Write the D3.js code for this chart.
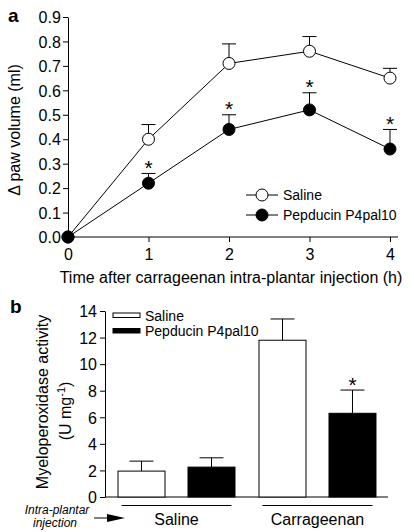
<!DOCTYPE html>
<html>
<head>
<meta charset="utf-8">
<script src="https://cdn.jsdelivr.net/npm/d3@7/dist/d3.min.js"></script>
<style>
  html, body { margin: 0; padding: 0; background: #fff; }
  svg { display: block; font-family: "Liberation Sans", Arial, Helvetica, sans-serif; }
</style>
</head>
<body>
<svg id="chart" width="414" height="532"></svg>
<script>
// ---------- Panel a data ----------
const timeHours = [0, 1, 2, 3, 4];
const salineMean = [0, 0.40, 0.71, 0.76, 0.65];
const salineErr = [0, 0.06, 0.08, 0.06, 0.04];
const pepducinMean = [0, 0.22, 0.44, 0.52, 0.36];
const pepducinErr = [0, 0.04, 0.06, 0.07, 0.08];
const pepducinSig = [false, true, true, true, true];
const yTicksA = [0, 0.1, 0.2, 0.3, 0.4, 0.5, 0.6, 0.7, 0.8, 0.9];
const seriesNamesA = ["Saline", "Pepducin P4pal10"];

// ---------- Panel b data ----------
const groupsB = ["Saline", "Carrageenan"];
const seriesB = ["Saline", "Pepducin P4pal10"];
const mpoSaline = [1.95, 11.8];
const mpoSalineErr = [0.75, 1.6];
const mpoPepducin = [2.25, 6.3];
const mpoPepducinErr = [0.7, 1.75];
const mpoSig = [[false, false], [false, true]];
const yTicksB = [0, 2, 4, 6, 8, 10, 12, 14];

const svg = d3.select("#chart");
const black = "#000";

// ================= Panel a =================
const xA = d3.scaleLinear().domain([0, 4]).range([68, 390]);
const yA = d3.scaleLinear().domain([0, 0.9]).range([237, 17]);

const gA = svg.append("g");
// y axis
const yAxisA = d3.axisLeft(yA).tickValues(yTicksA).tickFormat(d3.format(".1f")).tickSize(5).tickSizeOuter(0);
const gyA = gA.append("g").attr("transform", `translate(${xA(0)},0)`).call(yAxisA);
gyA.selectAll("text").attr("font-size", 16).attr("font-family", null).attr("dx", "0.05em").attr("dy", "0.36em");
gyA.selectAll("line, path").attr("stroke", black);
// x axis
const xAxisA = d3.axisBottom(xA).tickValues(timeHours).tickFormat(d3.format("d")).tickSize(5).tickSizeOuter(0);
const gxA = gA.append("g").attr("transform", `translate(0,${yA(0)})`).call(xAxisA);
gxA.select(".domain").remove();
gxA.append("line").attr("x1", xA(0)).attr("x2", xA(4) + 8).attr("y1", 0).attr("y2", 0).attr("stroke", black);
gxA.selectAll("text").attr("font-size", 16).attr("font-family", null).attr("dy", "0.95em").attr("fill", black);
gxA.selectAll("line").attr("stroke", black);

// axis titles
gA.append("text").attr("transform", `translate(20,${(yA(0) + yA(0.9)) / 2 + 3}) rotate(-90)`)
  .attr("text-anchor", "middle").attr("font-size", 16).text("Δ paw volume (ml)");
gA.append("text").attr("x", 231).attr("y", 283).attr("text-anchor", "middle")
  .attr("font-size", 16).text("Time after carrageenan intra-plantar injection (h)");
gA.append("text").attr("x", 8).attr("y", 22).attr("font-size", 19).attr("font-weight", "bold").text("a");

const line = d3.line().x((d, i) => xA(timeHours[i])).y(d => yA(d));
const seriesA = [
  { mean: salineMean, err: salineErr, fill: "#fff", sig: null },
  { mean: pepducinMean, err: pepducinErr, fill: black, sig: pepducinSig }
];
seriesA.forEach(s => {
  gA.append("path").attr("d", line(s.mean)).attr("fill", "none").attr("stroke", black).attr("stroke-width", 1);
  // error bars (upwards)
  s.mean.forEach((m, i) => {
    if (s.err[i] <= 0) return;
    const x = xA(timeHours[i]);
    gA.append("line").attr("x1", x).attr("x2", x).attr("y1", yA(m)).attr("y2", yA(m + s.err[i])).attr("stroke", black);
    gA.append("line").attr("x1", x - 7).attr("x2", x + 7).attr("y1", yA(m + s.err[i])).attr("y2", yA(m + s.err[i])).attr("stroke", black);
    if (s.sig && s.sig[i]) {
      gA.append("text").attr("x", x).attr("y", yA(m + s.err[i]) + 1.5).attr("text-anchor", "middle")
        .attr("font-size", 21).text("*");
    }
  });
});
seriesA.forEach(s => {
  gA.selectAll(null).data(s.mean).enter().append("circle")
    .attr("cx", (d, i) => xA(timeHours[i])).attr("cy", d => yA(d)).attr("r", 6)
    .attr("fill", s.fill).attr("stroke", black).attr("stroke-width", 1);
});

// legend a
const legA = gA.append("g");
[195, 215].forEach((ly, i) => {
  legA.append("line").attr("x1", 246).attr("x2", 278).attr("y1", ly).attr("y2", ly).attr("stroke", black);
  legA.append("circle").attr("cx", 262).attr("cy", ly).attr("r", 6)
    .attr("fill", seriesA[i].fill).attr("stroke", black);
  legA.append("text").attr("x", 283).attr("y", ly + 5).attr("font-size", 14).text(seriesNamesA[i]);
});

// ================= Panel b =================
const yB = d3.scaleLinear().domain([0, 14]).range([497, 311]);
const x0 = d3.scaleBand().domain(groupsB).range([112, 382]).paddingInner(0.1).paddingOuter(0.0075);
const x1 = d3.scaleBand().domain(seriesB).range([0, x0.bandwidth()]).paddingInner(0.3286).paddingOuter(0.0708);

const gB = svg.append("g");
const yAxisB = d3.axisLeft(yB).tickValues(yTicksB).tickFormat(d3.format("d")).tickSize(5).tickSizeOuter(0);
const gyB = gB.append("g").attr("transform", `translate(105,0)`).call(yAxisB);
gyB.selectAll("text").attr("font-size", 16).attr("font-family", null).attr("dy", "0.36em");
gyB.selectAll("line, path").attr("stroke", black);
gB.append("line").attr("x1", 105).attr("x2", 388).attr("y1", yB(0)).attr("y2", yB(0)).attr("stroke", black);

gB.append("text").attr("x", 10).attr("y", 313).attr("font-size", 19).attr("font-weight", "bold").text("b");
gB.append("text").attr("transform", `translate(48,402) rotate(-90)`).attr("text-anchor", "middle")
  .attr("font-size", 16).text("Myeloperoxidase activity");
const ul = gB.append("text").attr("transform", `translate(71,411) rotate(-90)`).attr("text-anchor", "middle")
  .attr("font-size", 16);
ul.append("tspan").text("(U mg");
ul.append("tspan").attr("font-size", 11).attr("dy", -6).text("-1");
ul.append("tspan").attr("dy", 6).text(")");

const barSeries = [
  { name: seriesB[0], mean: mpoSaline, err: mpoSalineErr, fill: "#fff" },
  { name: seriesB[1], mean: mpoPepducin, err: mpoPepducinErr, fill: black }
];
barSeries.forEach((s, si) => {
  groupsB.forEach((g, gi) => {
    const bx = x0(g) + x1(s.name);
    const bw = x1.bandwidth();
    const cx = bx + bw / 2;
    const top = yB(s.mean[gi]);
    const et = yB(s.mean[gi] + s.err[gi]);
    gB.append("line").attr("x1", cx).attr("x2", cx).attr("y1", top).attr("y2", et).attr("stroke", black);
    gB.append("line").attr("x1", cx - 12).attr("x2", cx + 12).attr("y1", et).attr("y2", et).attr("stroke", black);
    gB.append("rect").attr("x", bx).attr("y", top).attr("width", bw).attr("height", yB(0) - top)
      .attr("fill", s.fill).attr("stroke", black).attr("stroke-width", 1);
    if (mpoSig[gi][si]) {
      gB.append("text").attr("x", cx).attr("y", et + 1.5).attr("text-anchor", "middle").attr("font-size", 21).text("*");
    }
  });
});

// group labels with underlines
groupsB.forEach(g => {
  const c = x0(g) + x0.bandwidth() / 2;
  gB.append("line").attr("x1", c - 55).attr("x2", c + 55).attr("y1", 505.5).attr("y2", 505.5).attr("stroke", black);
  gB.append("text").attr("x", c).attr("y", 525).attr("text-anchor", "middle").attr("font-size", 16).text(g);
});

// intra-plantar injection label + arrow
gB.append("text").attr("x", 57).attr("y", 514).attr("text-anchor", "middle").attr("font-size", 12)
  .attr("font-style", "italic").text("Intra-plantar");
gB.append("text").attr("x", 55).attr("y", 527).attr("text-anchor", "middle").attr("font-size", 12)
  .attr("font-style", "italic").text("injection");
gB.append("line").attr("x1", 94).attr("x2", 110).attr("y1", 518).attr("y2", 518).attr("stroke", black);
gB.append("path").attr("d", "M107,514 L125,518 L107,522 Z").attr("fill", black);

// legend b
const legB = gB.append("g");
[[313, "#fff"], [328.5, black]].forEach(([ly, f], i) => {
  legB.append("rect").attr("x", 113).attr("y", ly).attr("width", 27).attr("height", 4.5)
    .attr("fill", f).attr("stroke", black);
  legB.append("text").attr("x", 145).attr("y", ly + 7.5).attr("font-size", 14).text(seriesB[i]);
});
</script>
</body>
</html>
